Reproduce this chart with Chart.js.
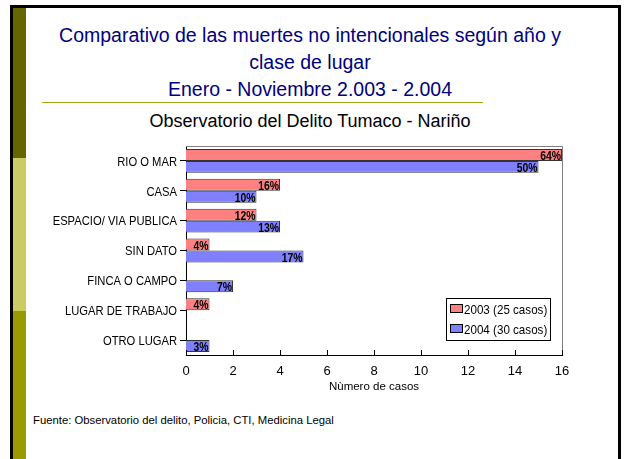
<!DOCTYPE html>
<html>
<head>
<meta charset="utf-8">
<script src="https://cdn.jsdelivr.net/npm/chart.js@4/dist/chart.umd.min.js"></script>
<style>
  html, body { margin:0; padding:0; background:#fff; }
  #page { position:relative; width:628px; height:459px; overflow:hidden; background:#fff; font-family:'Liberation Sans', Arial, sans-serif; }
  .blk { position:absolute; background:#000; }
  .strip { position:absolute; left:13px; width:13px; }
  .title { position:absolute; left:0; width:620px; text-align:center; color:#000080; font-size:19.5px; line-height:27px; }
  #rule { position:absolute; left:42px; top:102px; width:441px; height:1px; background:#a5a51a; }
  #sub { position:absolute; left:0; width:620px; top:111px; text-align:center; font-size:18px; color:#000; }
  #foot { position:absolute; left:33px; top:414px; font-size:11.3px; color:#000; }
  canvas { position:absolute; left:0; top:0; }
</style>
</head>
<body>
<div id="page">
  <div class="blk" style="left:10px;top:5px;width:611px;height:3px;"></div>
  <div class="blk" style="left:10px;top:5px;width:3px;height:454px;"></div>
  <div class="blk" style="left:618px;top:5px;width:3px;height:454px;"></div>
  <div class="strip" style="top:8px;height:150px;background:#666600;"></div>
  <div class="strip" style="top:158px;height:153px;background:#cccc66;"></div>
  <div class="strip" style="top:311px;height:148px;background:#999900;"></div>
  <div class="title" style="top:22px;">Comparativo de las muertes no intencionales según año y</div>
  <div class="title" style="top:49px;">clase de lugar</div>
  <div class="title" style="top:76px;">Enero - Noviembre 2.003 - 2.004</div>
  <div id="rule"></div>
  <div id="sub">Observatorio del Delito Tumaco - Nariño</div>
  <div id="foot">Fuente: Observatorio del delito, Policia, CTI, Medicina Legal</div>
  <canvas id="c" width="628" height="459"></canvas>
</div>
<script>
const categories = ['RIO O MAR', 'CASA', 'ESPACIO/ VIA PUBLICA', 'SIN DATO', 'FINCA O CAMPO', 'LUGAR DE TRABAJO', 'OTRO LUGAR'];
const seriesNames = ['2003 (25 casos)', '2004 (30 casos)'];
const values2003 = [16, 4, 3, 1, 0, 1, 0];
const values2004 = [15, 3, 4, 5, 2, 0, 1];
const pct2003 = ['64%', '16%', '12%', '4%', '', '4%', ''];
const pct2004 = ['50%', '10%', '13%', '17%', '7%', '', '3%'];
const xTicks = [0, 2, 4, 6, 8, 10, 12, 14, 16];
const xTitle = 'Nùmero de casos';

const FONT = "'Liberation Sans', Arial, sans-serif";

// draw horizontally condensed text (imitates a narrow typeface)
function narrowText(ctx, text, x, y, sx) {
  ctx.save();
  ctx.translate(x, y);
  ctx.scale(sx, 1);
  ctx.fillText(text, 0, 0);
  ctx.restore();
}

const decor = {
  id: 'decor',
  beforeDatasetsDraw(chart) {
    const {ctx, chartArea: a} = chart;
    ctx.save();
    ctx.strokeStyle = '#808080';
    ctx.lineWidth = 1;
    ctx.beginPath();
    ctx.moveTo(a.left, a.top + 0.5);
    ctx.lineTo(a.right + 0.5, a.top + 0.5);
    ctx.lineTo(a.right + 0.5, a.bottom);
    ctx.stroke();
    ctx.restore();
  },
  afterDatasetsDraw(chart) {
    const {ctx, chartArea: a, scales} = chart;
    ctx.save();
    // x tick marks inside
    ctx.strokeStyle = '#000';
    ctx.lineWidth = 1;
    xTicks.forEach(v => {
      const x = Math.round(scales.x.getPixelForValue(v)) + 0.5;
      ctx.beginPath();
      ctx.moveTo(x, a.bottom);
      ctx.lineTo(x, a.bottom - 5);
      ctx.stroke();
    });
    // category labels (condensed)
    ctx.fillStyle = '#000';
    ctx.font = '13.5px ' + FONT;
    ctx.textAlign = 'right';
    ctx.textBaseline = 'middle';
    chart.data.labels.forEach((lab, i) => {
      narrowText(ctx, lab, a.left - 9, scales.y.getPixelForTick(i) + 1, 0.83);
    });
    // percent labels
    const pcts = [pct2003, pct2004];
    ctx.font = 'bold 13px ' + FONT;
    ctx.textAlign = 'right';
    ctx.textBaseline = 'bottom';
    chart.data.datasets.forEach((ds, di) => {
      const meta = chart.getDatasetMeta(di);
      meta.data.forEach((bar, i) => {
        const t = pcts[di][i];
        if (!t) return;
        const p = bar.getProps(['x', 'y', 'height'], true);
        narrowText(ctx, t, p.x - 1, p.y + p.height / 2 + 2, 0.8);
      });
    });
    // legend
    const lx = 446, ly = 298, lw = 104, lh = 42;
    ctx.fillStyle = '#fff';
    ctx.fillRect(lx, ly, lw, lh);
    ctx.strokeStyle = '#000';
    ctx.strokeRect(lx + 0.5, ly + 0.5, lw, lh);
    ctx.font = '13.5px ' + FONT;
    ctx.textAlign = 'left';
    ctx.textBaseline = 'middle';
    chart.data.datasets.forEach((ds, di) => {
      const cy = ly + 11 + di * 20;
      ctx.fillStyle = ds.backgroundColor;
      ctx.fillRect(lx + 4, cy - 4, 12, 8);
      ctx.strokeStyle = '#000';
      ctx.strokeRect(lx + 4.5, cy - 4.5, 12, 8);
      ctx.fillStyle = '#000';
      narrowText(ctx, ds.label, lx + 18, cy + 1, 0.86);
    });
    ctx.restore();
  }
};

new Chart(document.getElementById('c'), {
  type: 'bar',
  data: {
    labels: categories,
    datasets: [
      { label: seriesNames[0], data: values2003, backgroundColor: '#ff8080', borderColor: '#333', borderWidth: 1 },
      { label: seriesNames[1], data: values2004, backgroundColor: '#8080ff', borderColor: '#333', borderWidth: 1 }
    ]
  },
  options: {
    indexAxis: 'y',
    responsive: false,
    animation: false,
    layout: { padding: { left: 30, right: 66, top: 146, bottom: 59 } },
    datasets: { bar: { categoryPercentage: 0.8, barPercentage: 1.0 } },
    plugins: { legend: { display: false }, tooltip: { enabled: false } },
    scales: {
      x: {
        min: 0, max: 16,
        afterFit(s) { s.height = 45; },
        afterBuildTicks(s) { s.ticks = xTicks.map(v => ({ value: v })); },
        grid: { display: false, drawTicks: false },
        border: { display: true, color: '#000', width: 1 },
        ticks: { color: '#000', font: { family: FONT, size: 13 }, padding: 9 },
        title: { display: true, text: xTitle, color: '#000', font: { family: FONT, size: 11.5 }, padding: { top: 0, bottom: 6 } }
      },
      y: {
        afterFit(s) { s.width = 156; },
        grid: { display: true, drawOnChartArea: false, drawTicks: true, tickLength: 6, offset: false, color: '#000' },
        border: { display: true, color: '#000', width: 1 },
        ticks: { display: false }
      }
    }
  },
  plugins: [decor]
});
</script>
</body>
</html>
